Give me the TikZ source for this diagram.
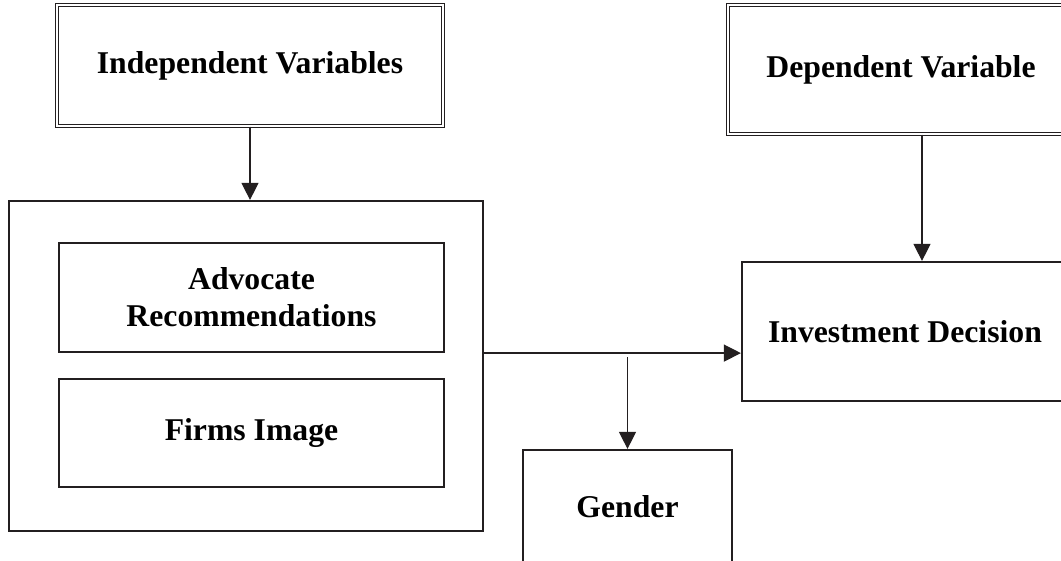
\documentclass[tikz,border=0pt]{standalone}
\usepackage{fontspec}
\setmainfont{Liberation Serif}
\usetikzlibrary{arrows.meta,positioning,calc}
\definecolor{ink}{RGB}{35,31,32}
\tikzset{
  box/.style={draw=ink,line width=2.2pt,inner sep=0pt,align=center,
    font=\fontsize{31.7}{37}\selectfont\bfseries},
  dbox/.style={box,line width=1.1pt,double,double distance=1.8pt},
  arr/.style={-{Triangle[length=17pt,width=17pt]},line width=1.2pt,draw=ink},
}
\begin{document}
\begin{tikzpicture}[x=1pt,y=-1pt]
  \clip (0,0) rectangle (1061,561);
  \node[dbox,minimum width=386pt,minimum height=121pt] (indep) at (250,65.5) {Independent Variables};
  \node[dbox,minimum width=346pt,minimum height=129pt] (dep) at (901,69.5) {Dependent Variable};
  % left block
  \node[box,minimum width=474pt,minimum height=330pt] (outer) at (246,366) {};
  \node[box,minimum width=385pt,minimum height=109pt] (adv) at (251.5,297.5) {Advocate\\ Recommendations};
  \node[box,minimum width=385pt,minimum height=108pt] (firm) at (251.5,433) {Firms Image};
  % right side
  \node[box,minimum width=326pt,minimum height=139pt] (inv) at (905,331.5) {Investment Decision};
  \node[box,minimum width=209pt,minimum height=114pt] (gend) at (627.5,507) {Gender};
  \coordinate (dtap) at ($(dep.south)+(21,0)$);
  \coordinate (split) at (gend.north |- adv.south);
  \draw[arr] (indep.south) -- (indep.south |- outer.north);
  \draw[arr] (dtap) -- (dtap |- inv.north);
  \draw[arr] (adv.south -| outer.east) -- (adv.south -| inv.west);
  \draw[arr] ($(split)+(0,4)$) -- (gend.north);
\end{tikzpicture}
\end{document}
